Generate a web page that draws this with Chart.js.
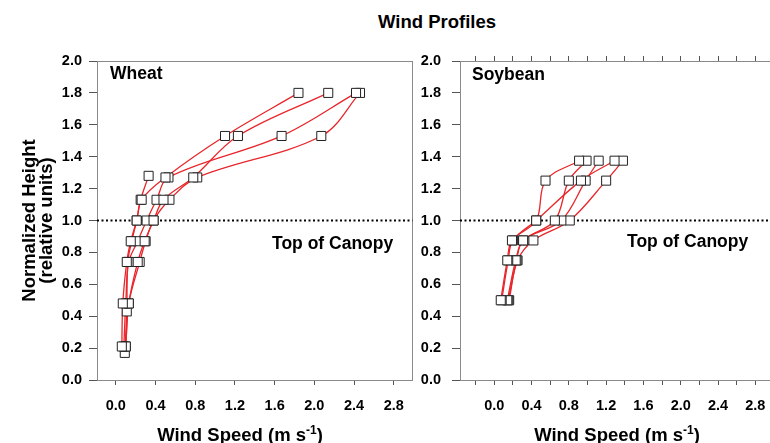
<!DOCTYPE html>
<html lang="en">
<head>
    <meta charset="UTF-8">
    <title>Wind Profiles</title>
    <script src="https://cdn.jsdelivr.net/npm/chart.js@4.4.1/dist/chart.umd.min.js"></script>
    <style>
        body { margin:0; width:770px; height:443px; overflow:hidden; position:relative; background:#fff;
               font-family:'Liberation Sans', Arial, sans-serif; color:#000; }
        canvas { position:absolute; top:0; }
        .lbl { position:absolute; font-weight:bold; font-size:17.5px; line-height:17px; white-space:nowrap; }
        .xt { position:absolute; font-weight:bold; font-size:18.5px; line-height:18px; white-space:nowrap; transform:translateX(-50%); }
        .xt sup { font-size:12px; vertical-align:7px; line-height:0; }
    </style>
</head>
<body>
    <div class="lbl" style="left:437px; top:13px; font-size:18.5px; transform:translateX(-50%)">Wind Profiles</div>
    <canvas id="wheatChart" width="420" height="443" style="left:0"></canvas>
    <canvas id="soyChart" width="366" height="443" style="left:420px"></canvas>
    <div class="lbl" style="left:110px; top:65px">Wheat</div>
    <div class="lbl" style="left:472px; top:66px">Soybean</div>
    <div class="lbl" style="left:272px; top:235px">Top of Canopy</div>
    <div class="lbl" style="left:627px; top:233px">Top of Canopy</div>
    <div class="xt" style="left:240px; top:426px">Wind Speed (m s<sup>-1</sup>)</div>
    <div class="xt" style="left:617px; top:426px">Wind Speed (m s<sup>-1</sup>)</div>
    <script>
        // tick values
        const heightTicks = [0.0, 0.2, 0.4, 0.6, 0.8, 1.0, 1.2, 1.4, 1.6, 1.8, 2.0];
        const speedLabels = [0.0, 0.4, 0.8, 1.2, 1.6, 2.0, 2.4, 2.8];
        const soySpeedTicks = [-0.2, 0.0, 0.2, 0.4, 0.6, 0.8, 1.0, 1.2, 1.4, 1.6, 1.8, 2.0, 2.2, 2.4, 2.6, 2.8, 3.0];
        const canopyTop = 1.0;

        // wheat profiles (normalized height vs wind speed)
        const wheatHeight = [0.21, 0.48, 0.74, 0.87, 1.00, 1.13, 1.27, 1.53, 1.80];
        const wheatSpeed1 = [0.06, 0.07, 0.11, 0.15, 0.21, 0.26, 0.50, 1.10, 1.84];
        const wheatSpeed2 = [0.10, 0.13, 0.22, 0.29, 0.38, 0.48, 0.78, 1.23, 2.14];
        const wheatSpeed3 = [0.08, 0.10, 0.13, 0.22, 0.31, 0.41, 0.53, 1.67, 2.42];
        const wheatSpeed4 = [0.10, 0.13, 0.24, 0.30, 0.38, 0.54, 0.82, 2.07, 2.46];
        const wheatHeight5 = [0.17, 0.43, 0.74, 0.87, 1.00, 1.13, 1.28];
        const wheatSpeed5 = [0.09, 0.11, 0.12, 0.16, 0.21, 0.25, 0.33];

        // soybean profiles
        const soyHeight = [0.50, 0.75, 0.875, 1.00, 1.25, 1.375];
        const soySpeed1 = [0.07, 0.14, 0.19, 0.45, 0.55, 0.91];
        const soySpeed2 = [0.08, 0.15, 0.20, 0.45, 0.93, 1.29];
        const soySpeed3 = [0.14, 0.23, 0.31, 0.65, 0.80, 0.99];
        const soySpeed4 = [0.15, 0.24, 0.31, 0.72, 0.98, 1.12];
        const soySpeed5 = [0.16, 0.25, 0.42, 0.81, 1.20, 1.38];

        Chart.defaults.font.family = "'Liberation Sans', Arial, sans-serif";
        Chart.defaults.color = '#000';

        function pts(xs, ys) {
            return xs.map(function(x, i) { return {x: x, y: ys[i]}; });
        }

        function buildDatasets(profiles, xmin, xmax) {
            var sets = [];
            profiles.forEach(function(p) {
                sets.push({ data: pts(p[0], p[1]), showLine: true, borderColor: '#e8262b', borderWidth: 1.3,
                            tension: 0.35, pointRadius: 0, order: 2 });
            });
            profiles.forEach(function(p) {
                sets.push({ data: pts(p[0], p[1]), showLine: false, pointStyle: 'rect', pointRadius: 6.4,
                            pointBackgroundColor: '#fff', pointBorderColor: '#222', pointBorderWidth: 1, order: 1 });
            });
            // dotted line marking top of canopy
            sets.push({ data: [{x: xmin, y: canopyTop}, {x: xmax, y: canopyTop}], showLine: true,
                        borderColor: '#000', borderWidth: 1.8, borderDash: [2, 2.5], pointRadius: 0, order: 3 });
            return sets;
        }

        function setTicks(list) {
            return function(scale) { scale.ticks = list.map(function(v) { return {value: v}; }); };
        }
        function speedLabel(value) {
            var v = Math.round(value * 10) / 10;
            return speedLabels.indexOf(v) >= 0 ? Math.abs(v).toFixed(1) : '';
        }
        var tickFont = {size: 14.5, weight: 'bold'};

        function makeOptions(cfg) {
            var scales = {
                x: {
                    type: 'linear', position: 'bottom', min: cfg.xmin, max: cfg.xmax,
                    afterBuildTicks: setTicks(cfg.xTicks),
                    afterFit: function(s) { s.height = 63; },
                    ticks: { callback: speedLabel, autoSkip: false, maxRotation: 0, padding: 12, font: tickFont },
                    grid: { drawOnChartArea: false, tickLength: 5, tickColor: '#555' },
                    border: { color: '#8a8a8a', width: 1 }
                },
                xTop: {
                    type: 'linear', position: 'top', min: cfg.xmin, max: cfg.xmax,
                    afterBuildTicks: setTicks(cfg.xTicks),
                    afterFit: function(s) { s.height = 0; },
                    ticks: { display: false },
                    grid: { drawOnChartArea: false, drawTicks: cfg.topTicks, tickLength: 5, tickColor: '#555' },
                    border: { color: '#8a8a8a', width: 1 }
                },
                y: {
                    type: 'linear', position: 'left', min: 0, max: 2.0,
                    afterBuildTicks: setTicks(heightTicks),
                    afterFit: function(s) { s.width = cfg.yWidth; },
                    ticks: { callback: function(v) { return v.toFixed(1); }, autoSkip: false, padding: cfg.yPad, font: tickFont },
                    grid: { drawOnChartArea: false, tickLength: 8, tickColor: '#555' },
                    border: { color: '#8a8a8a', width: 1 },
                    title: cfg.yTitle
                }
            };
            if (cfg.rightFrame) {
                scales.yRight = {
                    type: 'linear', position: 'right', min: 0, max: 2.0,
                    afterFit: function(s) { s.width = 0; },
                    ticks: { display: false },
                    grid: { drawOnChartArea: false, drawTicks: false },
                    border: { color: '#8a8a8a', width: 1 }
                };
            }
            return {
                responsive: false,
                animation: false,
                layout: { padding: { top: 61, right: 5, bottom: 0, left: 0 } },
                plugins: { legend: { display: false }, tooltip: { enabled: false } },
                scales: scales
            };
        }

        var wheatProfiles = [
            [wheatSpeed1, wheatHeight], [wheatSpeed2, wheatHeight], [wheatSpeed3, wheatHeight],
            [wheatSpeed4, wheatHeight], [wheatSpeed5, wheatHeight5]
        ];
        var soyProfiles = [
            [soySpeed1, soyHeight], [soySpeed2, soyHeight], [soySpeed3, soyHeight],
            [soySpeed4, soyHeight], [soySpeed5, soyHeight]
        ];

        new Chart(document.getElementById('wheatChart').getContext('2d'), {
            type: 'scatter',
            data: { datasets: buildDatasets(wheatProfiles, -0.19, 2.99) },
            options: makeOptions({
                xmin: -0.19, xmax: 2.99, xTicks: speedLabels, topTicks: false, rightFrame: true,
                yWidth: 97, yPad: 7,
                yTitle: { display: true, text: ['Normalized Height', '(relative units)'],
                          font: {size: 18.5, weight: 'bold', lineHeight: 0.92}, padding: {top: 21, bottom: 0} }
            })
        });

        new Chart(document.getElementById('soyChart').getContext('2d'), {
            type: 'scatter',
            data: { datasets: buildDatasets(soyProfiles, -0.367, 3.0) },
            options: makeOptions({
                xmin: -0.367, xmax: 3.0, xTicks: soySpeedTicks, topTicks: true, rightFrame: false,
                yWidth: 40, yPad: 11, yTitle: { display: false }
            })
        });
    </script>
</body>
</html>
